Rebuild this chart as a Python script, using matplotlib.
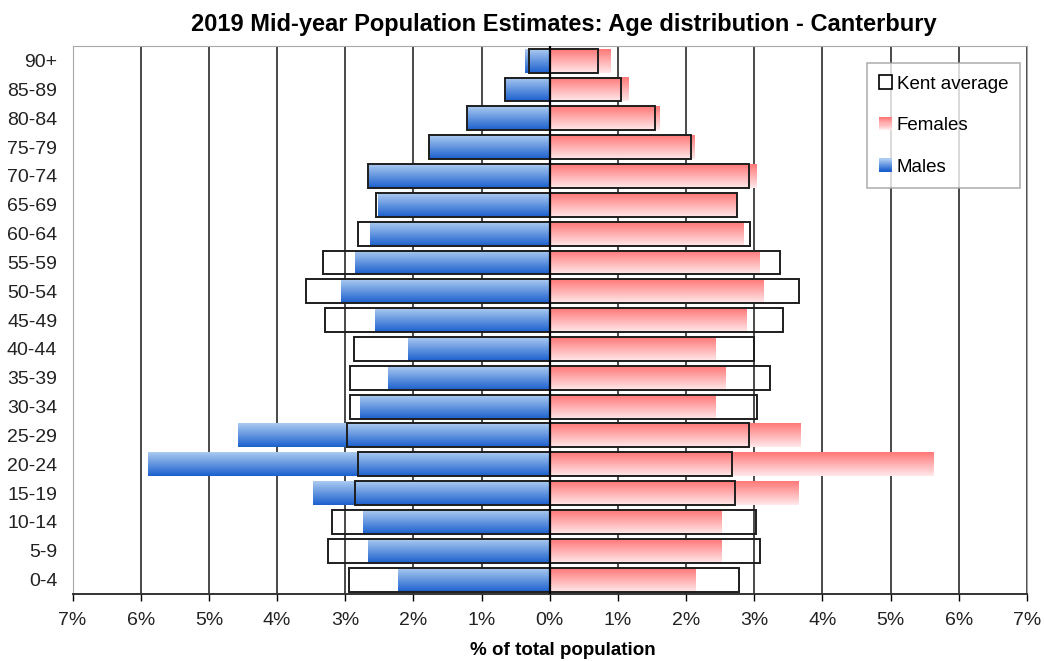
import numpy as np
import matplotlib
matplotlib.use('Agg')
import matplotlib.pyplot as plt
from matplotlib.colors import LinearSegmentedColormap
from matplotlib.patches import Rectangle
from matplotlib.legend_handler import HandlerBase

plt.rcParams['font.family'] = ['Liberation Sans', 'DejaVu Sans']

# age bands, bottom to top
ages = ['0-4', '5-9', '10-14', '15-19', '20-24', '25-29', '30-34', '35-39',
        '40-44', '45-49', '50-54', '55-59', '60-64', '65-69', '70-74',
        '75-79', '80-84', '85-89', '90+']

# % of total population (Canterbury)
males = [2.22, 2.67, 2.74, 3.48, 5.90, 4.57, 2.78, 2.38, 2.08, 2.56,
         3.06, 2.86, 2.63, 2.52, 2.65, 1.77, 1.22, 0.65, 0.36]
females = [2.14, 2.51, 2.51, 3.65, 5.62, 3.67, 2.43, 2.57, 2.43, 2.88,
           3.13, 3.07, 2.84, 2.74, 3.03, 2.12, 1.61, 1.15, 0.89]

# Kent average
kent_m = [2.94, 3.26, 3.19, 2.86, 2.82, 2.97, 2.93, 2.93, 2.87, 3.29,
          3.58, 3.33, 2.81, 2.55, 2.67, 1.77, 1.22, 0.66, 0.31]
kent_f = [2.78, 3.09, 3.02, 2.71, 2.68, 2.92, 3.04, 3.23, 3.00, 3.42,
          3.66, 3.38, 2.93, 2.75, 2.92, 2.07, 1.54, 1.05, 0.71]

blue_cm = LinearSegmentedColormap.from_list('blue', ['#aacaf0', '#1c60ce'])
pink_cm = LinearSegmentedColormap.from_list('pink', ['#ff7878', '#ffe8ea'])

fig = plt.figure(figsize=(10.44, 6.61), dpi=100)
ax = fig.add_axes([0.0695, 0.1014, 0.9142, 0.8286])

y = np.arange(len(ages))
h = 0.83
grad = np.linspace(0, 1, 64).reshape(-1, 1)

# gradient bars
bars_m = ax.barh(y, -np.array(males), height=h, color='none', zorder=2)
bars_f = ax.barh(y, females, height=h, color='none', zorder=2)
for bars, cm in ((bars_m, blue_cm), (bars_f, pink_cm)):
    for b in bars:
        x0, y0 = b.get_x(), b.get_y()
        x1, y1 = x0 + b.get_width(), y0 + b.get_height()
        ax.imshow(grad, cmap=cm, aspect='auto', origin='upper',
                  extent=[min(x0, x1), max(x0, x1), y0, y1], zorder=2,
                  interpolation='bilinear')

# Kent average outlines
ax.barh(y, -np.array(kent_m), height=h, fill=False, edgecolor='#1e1e1e',
        linewidth=1.4, zorder=3)
ax.barh(y, kent_f, height=h, fill=False, edgecolor='#1e1e1e',
        linewidth=1.4, zorder=3)

ax.axvline(0, color='black', lw=1.6, zorder=4)

ax.set_xlim(-7, 7)
ax.set_ylim(-0.5, len(ages) - 0.5)
ticks = np.arange(-7, 8)
ax.set_xticks(ticks)
ax.set_xticklabels([f'{abs(t)}%' for t in ticks], fontsize=14, color='#222222')
ax.set_yticks(y)
ax.set_yticklabels(ages, fontsize=14, color='#222222')
ax.tick_params(axis='y', length=0, pad=11)
ax.tick_params(axis='x', length=5, direction='out', width=1, pad=8)

ax.grid(axis='x', color='#3a3a3a', lw=1.3, zorder=1)
ax.set_axisbelow(True)
for s in ('top', 'right', 'left'):
    ax.spines[s].set_color('#a8a8a8')
ax.spines['bottom'].set_color('#333333')
ax.spines['bottom'].set_linewidth(1.4)

ax.set_title('2019 Mid-year Population Estimates: Age distribution - Canterbury',
             fontsize=17, fontweight='bold', pad=11, x=0.515)
ax.set_xlabel('% of total population', fontsize=13.5, fontweight='bold',
              labelpad=9, x=0.514)


class GradHandler(HandlerBase):
    def __init__(self, cm):
        super().__init__()
        self.cm = cm

    def create_artists(self, legend, orig, xd, yd, w, hh, fs, trans):
        n = 12
        arts = []
        for i in range(n):
            r = Rectangle((xd, yd + hh * (n - 1 - i) / n), w, hh / n,
                          facecolor=self.cm(i / (n - 1)), edgecolor='none',
                          transform=trans)
            arts.append(r)
        return arts


h_kent = Rectangle((0, 0), 1, 1, facecolor='white', edgecolor='black', lw=1.2)
h_fem = Rectangle((0, 0), 1, 1)
h_male = Rectangle((0, 0), 1, 1)
leg = ax.legend([h_kent, h_fem, h_male], ['Kent average', 'Females', 'Males'],
                handler_map={h_fem: GradHandler(pink_cm), h_male: GradHandler(blue_cm)},
                loc='upper left', bbox_to_anchor=(0.832, 0.969), fontsize=13.5,
                frameon=True, fancybox=False, edgecolor='#a0a0a0',
                handlelength=0.7, handleheight=0.7, handletextpad=0.25,
                labelspacing=1.3, borderpad=0.65, borderaxespad=0)
leg.get_frame().set_linewidth(1.2)

fig.savefig('out.png', dpi=100)
